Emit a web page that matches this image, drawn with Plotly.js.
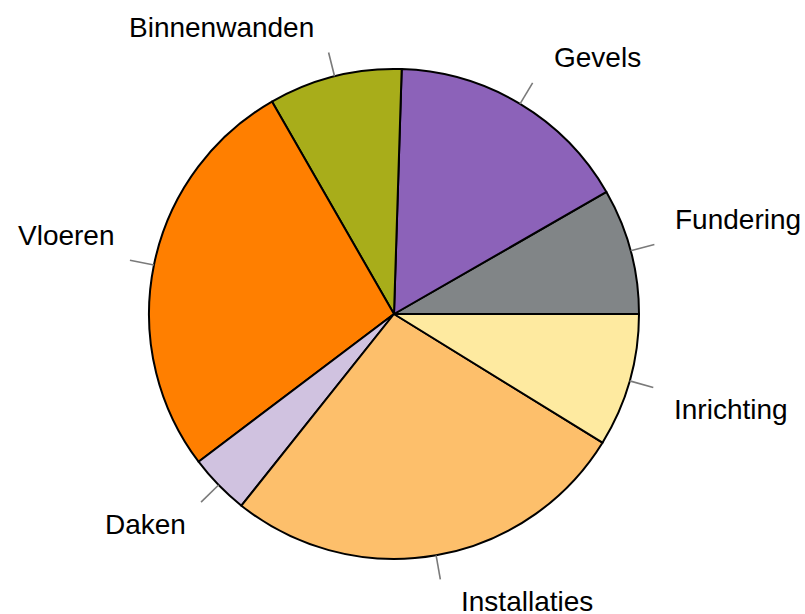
<!DOCTYPE html>
<html>
<head>
<meta charset="utf-8">
<script src="https://cdn.plot.ly/plotly-3.0.1.min.js"></script>
<style>html,body{margin:0;padding:0;background:#fff;}#chart{width:805px;height:614px;}</style>
</head>
<body>
<div id="chart"></div>
<script>
// Data (percent share), in R pie order: counterclockwise from 3 o'clock
const labels = ["Fundering", "Gevels", "Binnenwanden", "Vloeren", "Daken", "Installaties", "Inrichting"];
const values = [8.3, 16.2, 8.8, 27.0, 4.0, 26.9, 8.8];
const colors = ["#818587", "#8c62b9", "#a8ad1a", "#ff7f00", "#d0c2e0", "#fdbf6b", "#feeaa0"];

const W = 805, H = 614;
const cx = 394, cy = 300, R = 245; // pie centre (px from left / from bottom) and radius

const total = values.reduce((a, b) => a + b, 0);
const shapes = [], annotations = [];
let cum = 0;
values.forEach((v, i) => {
  const mid = (cum + v / 2) / total * 2 * Math.PI;
  cum += v;
  const c = Math.cos(mid), s = Math.sin(mid);
  shapes.push({
    type: "line", xref: "paper", yref: "paper",
    x0: (cx + R * c) / W, y0: (cy + R * s) / H,
    x1: (cx + 1.1 * R * c) / W, y1: (cy + 1.1 * R * s) / H,
    line: {color: "#7a7a7a", width: 1.6}
  });
  annotations.push({
    xref: "paper", yref: "paper", showarrow: false,
    x: (cx + 1.1 * R * c) / W, y: (cy + 1.1 * R * s) / H,
    xanchor: c < 0 ? "right" : "left", yanchor: "middle",
    xshift: c < 0 ? -13 : 19, yshift: s < 0 ? -22 : 25,
    text: labels[i],
    font: {family: "Liberation Sans, Arial, sans-serif", size: 28, color: "#000"}
  });
});

// Plotly's counterclockwise mode ends the first slice at the rotation angle,
// so shift by the first slice to make it start at 3 o'clock (as in R).
const rotation = 90 - values[0] / total * 360;

const trace = {
  type: "pie", labels: labels, values: values, sort: false,
  direction: "counterclockwise", rotation: rotation,
  marker: {colors: colors, line: {color: "#000", width: 2}},
  textinfo: "none", hoverinfo: "label+value",
  domain: {x: [(cx - R) / W, (cx + R) / W], y: [(cy - R) / H, (cy + R) / H]}
};

Plotly.newPlot("chart", [trace], {
  width: W, height: H, margin: {l: 0, r: 0, t: 0, b: 0},
  showlegend: false, paper_bgcolor: "#fff",
  shapes: shapes, annotations: annotations
}, {displayModeBar: false, staticPlot: true});
</script>
</body>
</html>
